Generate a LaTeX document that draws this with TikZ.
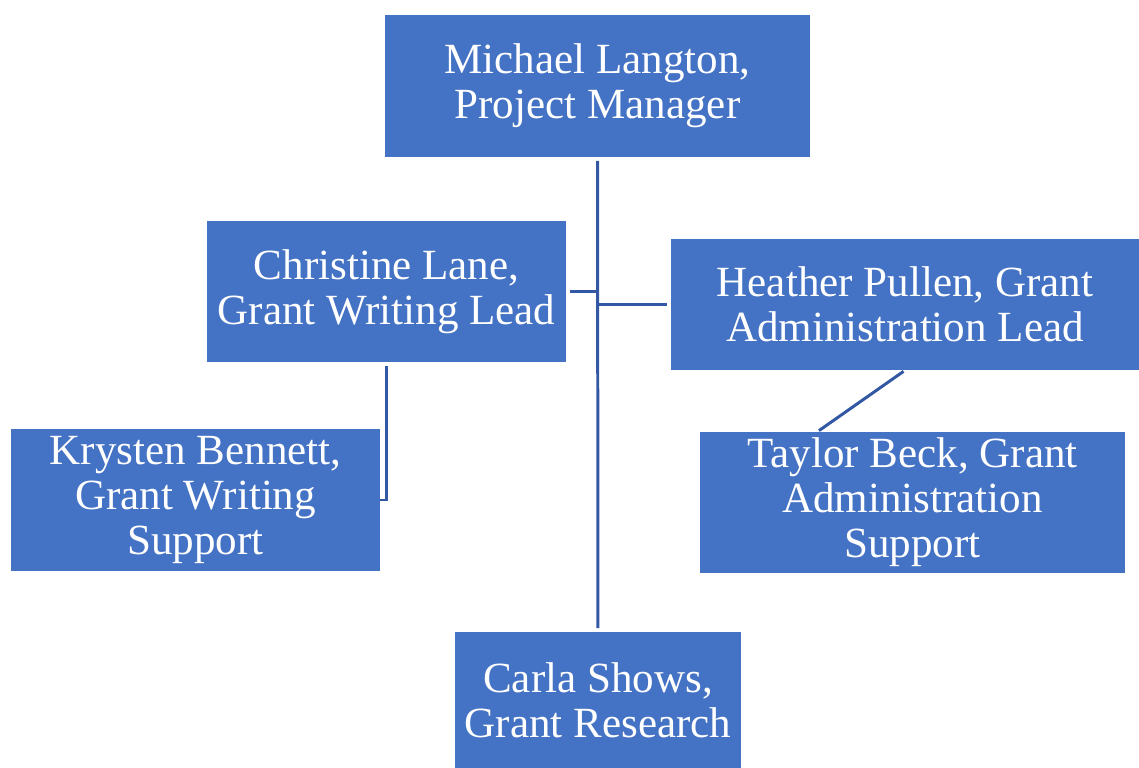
\documentclass[tikz,border=0pt]{standalone}
\usepackage{fontspec}
\setmainfont{Liberation Serif}
\usepackage{xcolor}
\usepackage{tikz}
\usetikzlibrary{arrows.meta,shapes,positioning}
\definecolor{orgblue}{RGB}{68,114,196}
\definecolor{linkblue}{RGB}{50,88,163}

\begin{document}
\begin{tikzpicture}[
    person/.style={rectangle, fill=orgblue, text=white, align=center, inner sep=0pt, font=\fontsize{24.5}{25.6}\selectfont},
    link/.style={draw=linkblue, line width=1.7pt}
]
    \useasboundingbox (0,0) rectangle (22.78,-15.36);

    \node[person, minimum width=8.5cm, minimum height=2.84cm] (michael) at (11.95,-1.72) {Michael Langton,\\Project Manager};
    \node[person, minimum width=7.18cm, minimum height=2.82cm] (christine) at (7.73,-5.83) {Christine Lane,\\Grant Writing Lead};
    \node[person, minimum width=9.36cm, minimum height=2.62cm] (heather) at (18.1,-6.09) {Heather Pullen, Grant\\Administration Lead};
    \node[person, minimum width=7.38cm, minimum height=2.84cm] (krysten) at (3.91,-10.0) {Krysten Bennett,\\Grant Writing\\Support};
    \node[person, minimum width=8.5cm, minimum height=2.82cm] (taylor) at (18.25,-10.05) {Taylor Beck, Grant\\Administration\\Support};
    \node[person, minimum width=5.72cm, minimum height=2.72cm] (carla) at (11.96,-14.0) {Carla Shows,\\Grant Research};

    \draw[link, shorten <=2pt, shorten >=2pt] (michael) -- (carla);
    \draw[link, shorten <=2pt] (christine.east) -- (christine.east -| michael.south);
    \draw[link, shorten <=2pt] (heather.west) -- (heather.west -| michael.south);
    \draw[link, shorten <=2pt] (christine.south) |- (krysten.east);
    \draw[link, shorten <=1pt, shorten >=1pt] (heather.south) -- ([xshift=-1.9cm]taylor.north);
\end{tikzpicture}
\end{document}
